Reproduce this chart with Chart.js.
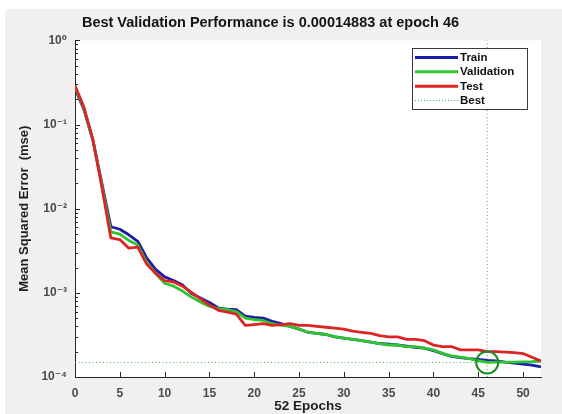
<!DOCTYPE html>
<html>
<head>
<meta charset="utf-8">
<title>Best Validation Performance</title>
<script src="https://cdn.jsdelivr.net/npm/chart.js@4"></script>
<style>
  html, body { margin: 0; padding: 0; background: #fff; }
  #wrap { width: 562px; height: 414px; }
</style>
</head>
<body>
<div id="wrap"><canvas id="perfChart" width="562" height="414"></canvas></div>
<script>
// ── Data ────────────────────────────────────────────────────────────────────
const epochs = [
    0, 1, 2, 3, 4, 5, 6, 7, 8, 9,
    10, 11, 12, 13, 14, 15, 16, 17, 18, 19,
    20, 21, 22, 23, 24, 25, 26, 27, 28, 29,
    30, 31, 32, 33, 34, 35, 36, 37, 38, 39,
    40, 41, 42, 43, 44, 45, 46, 47, 48, 49,
    50, 51, 52
];
const trainMse = [
    0.27, 0.15, 0.065, 0.020, 0.0061, 0.0057, 0.0049, 0.0041, 0.0026, 0.0019,
    0.00155, 0.0014, 0.00124, 0.00098, 0.00087, 0.00077, 0.00066, 0.00064, 0.00063, 0.00053,
    0.00051, 0.00050, 0.00046, 0.00043, 0.00040, 0.00037, 0.00034, 0.00033, 0.00032, 0.00030,
    0.00029, 0.00028, 0.00027, 0.00026, 0.00025, 0.000245, 0.00024, 0.000232, 0.000225, 0.00022,
    0.000205, 0.00019, 0.000176, 0.00017, 0.000165, 0.000162, 0.000158, 0.000155, 0.00015, 0.000146,
    0.000142, 0.000138, 0.000132
];
const validationMse = [
    0.28, 0.155, 0.065, 0.019, 0.0053, 0.0050, 0.0042, 0.0037, 0.0023, 0.0017,
    0.0013, 0.0012, 0.00105, 0.00089, 0.00078, 0.00069, 0.00065, 0.00063, 0.00060, 0.00050,
    0.00048, 0.00047, 0.00043, 0.00041, 0.00040, 0.00037, 0.00034, 0.00033, 0.00032, 0.000302,
    0.00029, 0.00028, 0.00027, 0.00026, 0.00025, 0.00024, 0.00024, 0.00023, 0.00023, 0.00022,
    0.00021, 0.000191, 0.000178, 0.000172, 0.000165, 0.000156, 0.00014883, 0.00015, 0.00015, 0.00015,
    0.000151, 0.000152, 0.000155
];
const testMse = [
    0.29, 0.16, 0.066, 0.018, 0.0045, 0.0043, 0.0034, 0.0035, 0.0022, 0.0017,
    0.0014, 0.00135, 0.0012, 0.00101, 0.00085, 0.00072, 0.00062, 0.00059, 0.00056, 0.00041,
    0.00042, 0.00043, 0.00041, 0.00042, 0.00043, 0.00041, 0.00041, 0.00040, 0.00039, 0.00038,
    0.00037, 0.00035, 0.00034, 0.00033, 0.00031, 0.00030, 0.00030, 0.00028, 0.00028, 0.00027,
    0.00024, 0.00023, 0.00023, 0.00021, 0.00021, 0.00021, 0.00020, 0.00020, 0.000198, 0.000195,
    0.00019, 0.000172, 0.000155
];
const bestEpoch = 46;
const bestValue = 0.00014883;

// axis ticks
const xTickValues = [0, 5, 10, 15, 20, 25, 30, 35, 40, 45, 50];
const yPowers     = [-4, -3, -2, -1, 0];
const yTickLabels = ['10\u207B\u2074', '10\u207B\u00B3', '10\u207B\u00B2', '10\u207B\u00B9', '10\u2070'];

// ── Styling ─────────────────────────────────────────────────────────────────
const FONT = "'Liberation Sans', Arial, 'DejaVu Sans', sans-serif";
const colors = {
    train: '#1c1ca8',
    validation: '#2fc52f',
    test: '#dd2424',
    bestLine: '#4fae4f',
    bestCircle: '#1f8a2c',
    axis: '#262626',
    tick: '#4a4a4a'
};

const toPoints = arr => epochs.map((e, i) => ({ x: e, y: arr[i] }));

// grey figure background, white axes area
const figureBackground = {
    id: 'figureBackground',
    beforeDraw(chart) {
        const { ctx, width, height, chartArea: a } = chart;
        ctx.save();
        ctx.fillStyle = '#ffffff';
        ctx.fillRect(0, 0, width, height);
        ctx.fillStyle = '#f0f0f0';
        ctx.fillRect(5, 9, width - 5, height - 9);
        ctx.fillStyle = '#ffffff';
        ctx.fillRect(a.left, a.top, a.right - a.left, a.bottom - a.top);
        ctx.restore();
    }
};

// MATLAB style inward tick marks (major + log minor)
const inwardTicks = {
    id: 'inwardTicks',
    afterDatasetsDraw(chart) {
        const { ctx, chartArea: a, scales: { x, y } } = chart;
        ctx.save();
        ctx.strokeStyle = colors.axis;
        ctx.lineWidth = 1;
        ctx.beginPath();
        xTickValues.forEach(v => {
            const px = Math.round(x.getPixelForValue(v)) + 0.5;
            ctx.moveTo(px, a.bottom);
            ctx.lineTo(px, a.bottom - 5);
        });
        yPowers.forEach(p => {
            for (let m = 1; m <= 9; m++) {
                if (p === 0 && m > 1) break;
                const py = Math.round(y.getPixelForValue(m * Math.pow(10, p))) + 0.5;
                ctx.moveTo(a.left, py);
                ctx.lineTo(a.left + (m === 1 ? 5 : 3), py);
            }
        });
        ctx.stroke();
        ctx.restore();
    }
};

// boxed legend in the upper right corner of the axes
const legendBox = {
    id: 'legendBox',
    afterDraw(chart) {
        const { ctx, chartArea: a } = chart;
        const items = chart.data.datasets.filter(d => d.legendRow !== undefined)
            .sort((p, q) => p.legendRow - q.legendRow);
        const w = 115, h = 61;
        const left = a.right - 14 - w, top = a.top + 8;
        ctx.save();
        ctx.fillStyle = '#ffffff';
        ctx.fillRect(left, top, w, h);
        ctx.strokeStyle = '#3a3a3a';
        ctx.lineWidth = 1;
        ctx.strokeRect(Math.round(left) + 0.5, Math.round(top) + 0.5, w, h);
        ctx.font = 'bold 11.5px ' + FONT;
        ctx.textBaseline = 'middle';
        ctx.fillStyle = '#111';
        items.forEach((d, i) => {
            const yy = top + 9 + i * 14.4;
            ctx.beginPath();
            ctx.strokeStyle = d.borderColor;
            ctx.lineWidth = d.legendDash ? 1 : 3;
            ctx.setLineDash(d.legendDash ? [1, 2] : []);
            ctx.moveTo(left + 3, yy);
            ctx.lineTo(left + 46, yy);
            ctx.stroke();
            ctx.setLineDash([]);
            ctx.fillText(d.label, left + 48, yy + 0.5);
        });
        ctx.restore();
    }
};

const lineStyle = { pointRadius: 0, borderWidth: 2.8, tension: 0, borderJoinStyle: 'round', fill: false };

new Chart(document.getElementById('perfChart'), {
    type: 'line',
    data: {
        datasets: [
            { label: 'Train', data: toPoints(trainMse), borderColor: colors.train, order: 4, legendRow: 0, ...lineStyle },
            { label: 'Validation', data: toPoints(validationMse), borderColor: colors.validation, order: 3, legendRow: 1, ...lineStyle },
            { label: 'Test', data: toPoints(testMse), borderColor: colors.test, order: 2, legendRow: 2, ...lineStyle },
            {
                label: 'Best',
                data: [{ x: bestEpoch, y: 1e-4 }, { x: bestEpoch, y: 1 }],
                borderColor: colors.bestLine, borderWidth: 1, borderDash: [1, 2.5],
                pointRadius: 0, order: 6, legendRow: 3, legendDash: true
            },
            {
                label: 'Best level',
                data: [{ x: 0, y: bestValue }, { x: 52, y: bestValue }],
                borderColor: colors.bestLine, borderWidth: 1, borderDash: [1, 2.5],
                pointRadius: 0, order: 6
            },
            {
                label: 'Best point',
                data: [{ x: bestEpoch, y: bestValue }],
                showLine: false,
                pointRadius: 11,
                pointBorderWidth: 2,
                pointBorderColor: colors.bestCircle,
                pointBackgroundColor: 'rgba(0,0,0,0)',
                order: 1,
                clip: false
            }
        ]
    },
    options: {
        responsive: false,
        animation: false,
        layout: { padding: { left: 0, right: 21, top: 0, bottom: 0 } },
        plugins: {
            legend: { display: false },
            tooltip: { enabled: false },
            title: {
                display: true,
                text: 'Best Validation Performance is 0.00014883 at epoch 46',
                color: '#141414',
                font: { family: FONT, size: 14.5, weight: 'bold', lineHeight: 1.2 },
                padding: { top: 14, bottom: 9 }
            }
        },
        scales: {
            x: {
                type: 'linear',
                min: 0,
                max: 52,
                afterBuildTicks: s => { s.ticks = xTickValues.map(v => ({ value: v })); },
                afterFit: s => { s.height = 37; },
                grid: { display: false, drawTicks: false },
                border: { display: true, color: colors.axis, width: 1 },
                ticks: {
                    padding: 9,
                    autoSkip: false,
                    maxRotation: 0,
                    color: colors.tick,
                    font: { family: FONT, size: 12, weight: 'bold' },
                    callback: v => String(v)
                },
                title: {
                    display: true,
                    text: '52 Epochs',
                    color: '#1e1e1e',
                    font: { family: FONT, size: 13.5, weight: 'bold', lineHeight: 1.2 },
                    padding: { top: 0, bottom: 0 }
                }
            },
            y: {
                type: 'logarithmic',
                min: 1e-4,
                max: 1,
                afterBuildTicks: s => { s.ticks = yPowers.map(p => ({ value: Math.pow(10, p) })); },
                afterFit: s => { s.width = 75; },
                grid: { display: false, drawTicks: false },
                border: { display: true, color: colors.axis, width: 1 },
                ticks: {
                    padding: 8,
                    autoSkip: false,
                    color: colors.tick,
                    font: { family: FONT, size: 12, weight: 'bold' },
                    callback: (v, i) => yTickLabels[i]
                },
                title: {
                    display: true,
                    text: 'Mean Squared Error  (mse)',
                    color: '#1e1e1e',
                    font: { family: FONT, size: 13, weight: 'bold', lineHeight: 1.2 },
                    padding: { top: 17, bottom: 0 }
                }
            }
        }
    },
    plugins: [figureBackground, inwardTicks, legendBox]
});
</script>
</body>
</html>
